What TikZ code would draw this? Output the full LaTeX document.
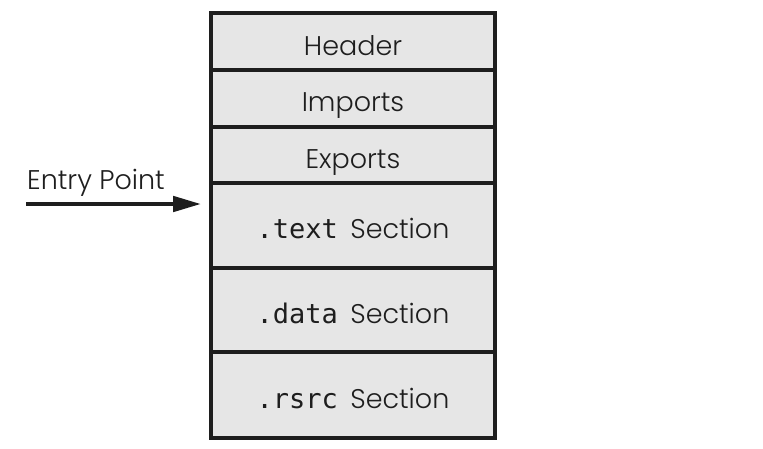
\documentclass[tikz,border=0pt]{standalone}
\usepackage{fontspec}
\setmainfont{Poppins Light}
\setmonofont{DejaVu Sans Mono}
\usetikzlibrary{arrows.meta}
\definecolor{rowgray}{RGB}{230,230,230}
\definecolor{ink}{RGB}{30,30,30}
\tikzset{
  row/.style={draw=ink, fill=rowgray, line width=3.6pt, minimum width=284pt, inner sep=0pt},
  lbl/.style={anchor=base, inner sep=0pt, text=ink, font=\fontsize{27}{30}\selectfont},
  entryarrow/.style={draw=ink, line width=4.5pt, -{Triangle[length=28pt,width=15pt]}}
}
\newcommand\monotxt[1]{{\fontsize{27}{30}\ttfamily #1}}
\begin{document}
\begin{tikzpicture}[x=1pt,y=-1pt]
\useasboundingbox (0,0) rectangle (763,448);
% rows
\node[row, minimum height=57pt] (header)  at (353,41.5) {};
\node[row, minimum height=57pt] (imports) at (353,98.5) {};
\node[row, minimum height=56pt] (exports) at (353,155) {};
\node[row, minimum height=85pt] (textsec) at (353,225.5) {};
\node[row, minimum height=84pt] (datasec) at (353,310) {};
\node[row, minimum height=86pt] (rsrcsec) at (353,395) {};
% labels
\node[lbl] (lheader)  at (353,55)  {Header};
\node[lbl] (limports) at (353,111) {Imports};
\node[lbl] (lexports) at (353,168) {Exports};
\node[lbl] (ltext)    at (353,238) {\monotxt{.text}\hspace{5pt} Section};
\node[lbl] (ldata)    at (353,323) {\monotxt{.data}\hspace{5pt} Section};
\node[lbl] (lrsrc)    at (353,408) {\monotxt{.rsrc}\hspace{5pt} Section};
% entry point
\node[lbl, anchor=base west] (entry) at (27,189) {Entry Point};
\coordinate (start) at (26,204);
\draw[entryarrow, shorten >=8pt] (start) -- (start -| textsec.west);
\end{tikzpicture}
\end{document}
